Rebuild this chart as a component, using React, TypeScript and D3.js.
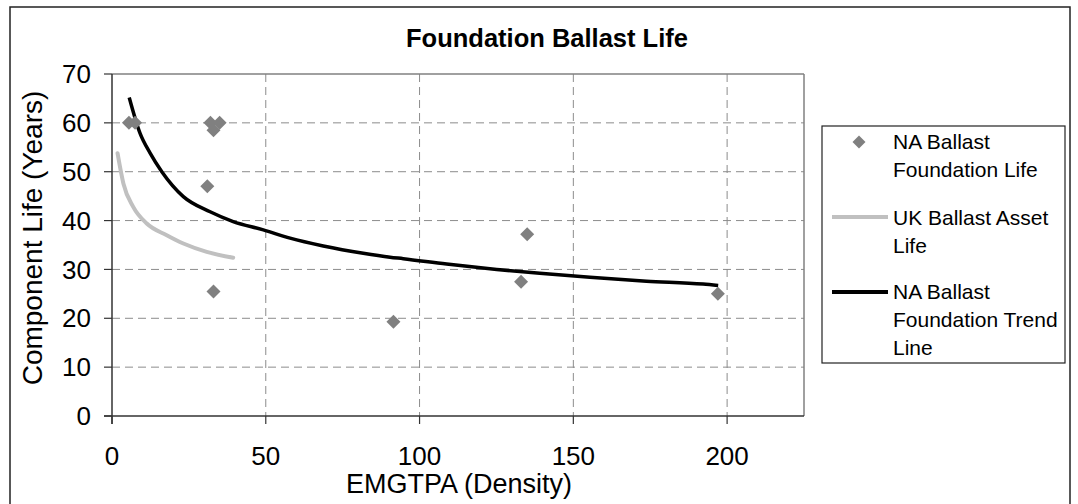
import React from "react";
import * as d3 from "d3";

const title = "Foundation Ballast Life";
const xTitle = "EMGTPA (Density)";
const yTitle = "Component Life (Years)";
const xTicks = [0, 50, 100, 150, 200];
const yTicks = [0, 10, 20, 30, 40, 50, 60, 70];

// NA Ballast Foundation Life (scatter)
const naX = [5.5, 7.5, 32, 35, 33, 31, 33, 91.5, 133, 135, 197];
const naY = [60, 60, 60, 60, 58.5, 47, 25.5, 19.3, 27.5, 37.2, 25];

// UK Ballast Asset Life (line)
const ukX = [1.8, 3.7, 6.9, 11.3, 17.8, 23.2, 30.8, 39.4];
const ukY = [53.8, 47.6, 42.8, 39.4, 37.0, 35.3, 33.6, 32.4];

// NA Ballast Foundation Trend Line
const trX = [5.6, 9.1, 12.4, 16.2, 23.2, 31.9, 39.4, 49.2, 57.9, 68.7, 81.7, 90.4, 94.7, 108.8, 125.1, 139.1, 155.4, 173.8, 192.2, 197.1];
const trY = [65.2, 57.9, 53.8, 50.0, 44.9, 41.8, 39.8, 38.1, 36.4, 34.8, 33.3, 32.5, 32.2, 31.1, 30.0, 29.2, 28.4, 27.6, 27.0, 26.7];

const legendItems = [
  { lines: ["NA Ballast", "Foundation Life"], kind: "diamond" },
  { lines: ["UK Ballast Asset", "Life"], kind: "gray" },
  { lines: ["NA Ballast", "Foundation Trend", "Line"], kind: "black" },
];

const FONT = "Arial, 'Liberation Sans', sans-serif";

export default function App() {
  const W = 1078, H = 504;
  const left = 112, right = 804, top = 74, bottom = 416;
  const x = d3.scaleLinear().domain([0, 225]).range([left, right]);
  const y = d3.scaleLinear().domain([0, 70]).range([bottom, top]);

  const line = d3.line<number>().x((d) => x(ukX[d])).y((d) => y(ukY[d])).curve(d3.curveMonotoneX);
  const ukPath = line(ukX.map((_, i) => i)) || "";
  const trLine = d3.line<number>().x((d) => x(trX[d])).y((d) => y(trY[d])).curve(d3.curveMonotoneX);
  const trPath = trLine(trX.map((_, i) => i)) || "";

  const diamond = (cx: number, cy: number, r: number) =>
    `M${cx},${cy - r}L${cx + r},${cy}L${cx},${cy + r}L${cx - r},${cy}Z`;

  const legendTop = [149, 225, 299];
  const lineH = 28;

  return (
    <svg width={W} height={H} style={{ position: "absolute", left: 0, top: 0, background: "#fff" }} fontFamily={FONT}>
      <rect x={0} y={0} width={W} height={H} fill="#fff" />
      <rect x={10} y={7} width={1060} height={520} fill="none" stroke="#222" strokeWidth={1.5} />
      <text x={547} y={47} textAnchor="middle" fontSize={25.5} fontWeight="bold" fill="#000">{title}</text>

      {/* grid */}
      {yTicks.filter((t) => t > 0 && t < 70).map((t) => (
        <line key={"gy" + t} x1={left} x2={right} y1={y(t)} y2={y(t)} stroke="#8c8c8c" strokeWidth={1} strokeDasharray="8,5" />
      ))}
      {xTicks.filter((t) => t > 0).map((t) => (
        <line key={"gx" + t} x1={x(t)} x2={x(t)} y1={top} y2={bottom} stroke="#8c8c8c" strokeWidth={1} strokeDasharray="8,5" />
      ))}
      {/* plot border */}
      <line x1={left} x2={right} y1={top} y2={top} stroke="#808080" strokeWidth={1.5} />
      <line x1={right} x2={right} y1={top} y2={bottom} stroke="#808080" strokeWidth={1.5} />
      {/* axes */}
      <line x1={left} x2={left} y1={top} y2={bottom + 8} stroke="#333" strokeWidth={1.5} />
      <line x1={left - 8} x2={right} y1={bottom} y2={bottom} stroke="#333" strokeWidth={1.5} />
      {yTicks.map((t) => (
        <g key={"yt" + t}>
          <line x1={left - 8} x2={left} y1={y(t)} y2={y(t)} stroke="#333" strokeWidth={1.2} />
          <text x={91} y={y(t)} dy="0.35em" textAnchor="end" fontSize={26} fill="#000">{t}</text>
        </g>
      ))}
      {xTicks.map((t) => (
        <g key={"xt" + t}>
          <line x1={x(t)} x2={x(t)} y1={bottom} y2={bottom + 8} stroke="#333" strokeWidth={1.2} />
          <text x={x(t)} y={465} textAnchor="middle" fontSize={26} fill="#000">{t}</text>
        </g>
      ))}
      <text x={459} y={493} textAnchor="middle" fontSize={27} fill="#000">{xTitle}</text>
      <text transform={`translate(42,238) rotate(-90)`} textAnchor="middle" fontSize={28} fill="#000">{yTitle}</text>

      {/* series */}
      <path d={ukPath} fill="none" stroke="#c0c0c0" strokeWidth={4} strokeLinejoin="round" strokeLinecap="round" />
      <path d={trPath} fill="none" stroke="#000" strokeWidth={3.5} strokeLinejoin="round" />
      {naX.map((v, i) => (
        <path key={"p" + i} d={diamond(x(v), y(naY[i]), 7)} fill="#808080" />
      ))}

      {/* legend */}
      <rect x={822} y={126} width={243} height={237} fill="#fff" stroke="#222" strokeWidth={1.2} />
      {legendItems.map((it, i) => (
        <g key={"lg" + i}>
          {it.kind === "diamond" && <path d={diamond(859, legendTop[i] - 7, 6.5)} fill="#808080" />}
          {it.kind === "gray" && <line x1={832} x2={888} y1={legendTop[i] - 8} y2={legendTop[i] - 8} stroke="#c0c0c0" strokeWidth={4} />}
          {it.kind === "black" && <line x1={832} x2={888} y1={legendTop[i] - 7} y2={legendTop[i] - 7} stroke="#000" strokeWidth={4} />}
          {it.lines.map((s, j) => (
            <text key={j} x={893} y={legendTop[i] + j * lineH} fontSize={21} fill="#000">{s}</text>
          ))}
        </g>
      ))}
    </svg>
  );
}
